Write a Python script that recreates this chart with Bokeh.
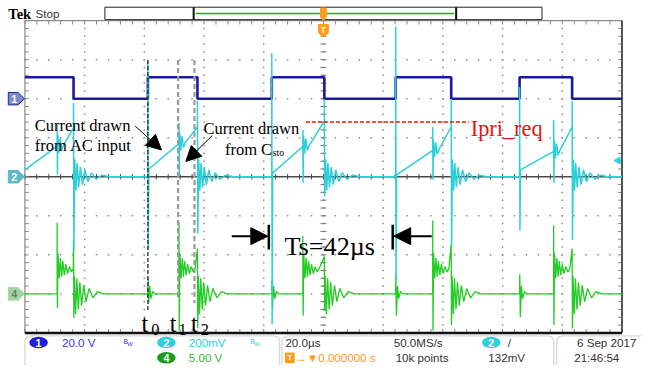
import numpy as np
from bokeh.plotting import figure
from bokeh.models import Range1d, Arrow, NormalHead, BoxAnnotation, Label
from bokeh.embed import file_html
from bokeh.resources import INLINE

# ---------------- scope settings ----------------
time_per_div = 20.0                 # µs / div
ch1_scale, ch1_pos = 20.0, 2.0      # V/div, marker position (div)
ch2_scale, ch2_pos = 200.0, 0.0     # mV/div
ch4_scale, ch4_pos = 5.0, -3.0      # V/div

# ---------------- event times (µs) ----------------
t_rise = [-58.8, -17.3, 24.2, 65.7]           # t0 : turn-on
t_mid = [-89.2, -48.4, -6.9, 36.6, 77.1]      # t1
t_fall = [-83.7, -42.2, 0.3, 42.8, 83.3]      # t2 : turn-off

# ---------------- CH1 gate (V) ----------------
gate_high, gate_low = 11.0, 0.0

# ---------------- CH2 primary current (mV) ----------------
i_start = [35, 40, 20, 10, 35]
i_mid = [157, 170, 155, 135, 130]
i_mid_hi = [265, 275, 240, 255, 290]
i_mid_lo = [10, 5, -30, -15, -30]
i_peak = [250, 255, 285, 255, 255]
i_fall_hi = [378, 388, 398, 398, 388]
i_fall_lo = [-373, -290, -100, -358, -324]
i_rise_hi = [594, 633, 770, 460]
i_rise_lo = [-373, -756, -520, -275]
i_mid_ring_dt = [0.25, 0.6, 1.0, 1.5, 2.1]
i_mid_ring = [55, -35, 40, -20, 5]
i_fall_ring_dt = [0.4, 0.8, 1.2, 1.7, 2.3, 3.0, 3.8, 4.8, 6.0, 7.5, 9.5, 12.0]
i_fall_ring = [90, -70, 70, -55, 50, -40, 35, -25, 20, -12, 8, 0]
ipri_req = 280

# ---------------- CH4 (V) ----------------
v_rise_hi = [2.1, 1.7, 2.5, 2.5]
v_rise_lo = [-1.2, -1.8, -2.8, -3.0]
v_rise_ring_dt = [0.6, 1.0, 1.6, 2.4]
v_rise_ring = [1.0, -0.6, 0.3, 0.0]
v_mid_hi = [9.1, 9.2, 7.4, 9.4, 8.8]
v_mid_lo = [-1.8, -4.7, -2.8, -4.7, -4.0]
v_mid_ring_dt = [0.3, 0.7, 1.1, 1.5, 1.9, 2.4, 2.9, 3.5, 4.1, 4.8, 5.4]
v_mid_ring = [5.2, 2.0, 4.6, 2.2, 4.2, 2.4, 3.8, 2.6, 3.5, 2.8, 3.2]
v_fall_hi = [7.0, 5.8, 4.8, 6.4, 5.8]
v_fall_lo = [-3.1, -4.4, -2.2, -4.0, -4.4]
v_fall_ring_dt = [0.3, 0.7, 1.1, 1.6, 2.1, 2.7, 3.4, 4.2, 5.2, 6.5, 8.0, 10.0]
v_fall_ring = [2.3, -2.6, 2.0, -2.0, 1.5, -1.5, 1.1, -1.0, 0.7, -0.5, 0.3, 0.0]

# ---------------- layout helpers (reference-pixel -> data) ----------------
PX_DIV_X, PX_DIV_Y = 61.2, 40.75
CX, CY = 331.0, 184.0
FS = 0.97


def X(px):
    return (px - CX) / PX_DIV_X * time_per_div


def Y(py):
    return (CY - py) / PX_DIV_Y


def W(px):
    return px / PX_DIV_X * time_per_div


def H(py):
    return py / PX_DIV_Y


BLUE = "#1a1aa0"
CYAN = "#2dcfda"
GREEN = "#22cc22"

p = figure(width=641, height=365, x_range=Range1d(X(0), X(657)), y_range=Range1d(Y(381), Y(0)),
           output_backend="svg", toolbar_location=None, x_axis_type=None, y_axis_type=None,
           min_border=0, background_fill_color="white", border_fill_color="white",
           outline_line_color=None)


def label(x, y, text, size, color="black", font="Liberation Sans", align="left",
          baseline="middle", style="normal"):
    p.add_layout(Label(x=x, y=y, text=text, text_font=font, text_font_size=f"{size*FS:.1f}px",
                       text_color=color, text_align=align, text_baseline=baseline,
                       text_font_style=style))


# ---------------- graticule ----------------
ys_dot = np.round(np.arange(-4, 4.001, 0.2), 3)
xs_dot = np.round(np.arange(-100, 100.01, 4.0), 3)
dx, dy = [], []
for gx in range(-4, 5):
    for yy in ys_dot:
        dx.append(gx * time_per_div); dy.append(yy)
for gy in [-3, -2, -1, 1, 2, 3]:
    for xx in xs_dot:
        dx.append(xx); dy.append(gy)
p.scatter(dx, dy, marker="square", size=1.5, color="#8c8c8c", line_color=None)

# center horizontal line + ticks
p.segment([-100], [0], [100], [0], line_color="#4a4a4a", line_width=1.4)
tx = list(xs_dot)
p.segment(tx, [-0.07] * len(tx), tx, [0.07] * len(tx), line_color="#4a4a4a", line_width=1)
ty = list(ys_dot)
p.segment([-1.0] * len(ty), ty, [1.0] * len(ty), ty, line_color="#777", line_width=1)
# border ticks
p.segment(tx, [4] * len(tx), tx, [3.9] * len(tx), line_color="#888", line_width=1)
p.segment(tx, [-4] * len(tx), tx, [-3.9] * len(tx), line_color="#888", line_width=1)
p.segment([-100] * len(ty), ty, [-98.7] * len(ty), ty, line_color="#888", line_width=1)
p.segment([100] * len(ty), ty, [98.7] * len(ty), ty, line_color="#888", line_width=1)
# border
p.segment([-100, -100], [4, -4], [100, -100], [4, 4], line_color="#8a8a8a", line_width=1.2)
p.segment([100], [-4], [100], [4], line_color="#555", line_width=2)
p.segment([-100], [-4], [100], [-4], line_color="#111", line_width=2.5)

# ---------------- CH1 ----------------
t1c, v1c = [-100.0], [gate_high]
for k in range(5):
    t1c += [t_fall[k], t_fall[k]]; v1c += [gate_high, gate_low]
    if k < 4:
        t1c += [t_rise[k], t_rise[k]]; v1c += [gate_low, gate_high]
t1c.append(100.0); v1c.append(gate_low)
p.line(t1c, [v / ch1_scale + ch1_pos for v in v1c], line_color=BLUE, line_width=2.6)

# ---------------- CH4 ----------------
t4, v4 = [-100.0], [0.0]
for k in range(5):
    if k > 0:
        tr = t_rise[k - 1]
        t4 += [tr, tr + 0.05, tr + 0.25]; v4 += [0.0, v_rise_hi[k - 1], v_rise_lo[k - 1]]
        t4 += [tr + d for d in v_rise_ring_dt]; v4 += list(v_rise_ring)
    tm = t_mid[k]
    t4 += [tm, tm, tm + 0.1]; v4 += [0.0, v_mid_hi[k], v_mid_lo[k]]
    t4 += [tm + d for d in v_mid_ring_dt]; v4 += list(v_mid_ring)
    tf = t_fall[k]
    t4 += [tf, tf + 0.1]; v4 += [v_fall_hi[k], v_fall_lo[k]]
    t4 += [tf + d for d in v_fall_ring_dt]; v4 += list(v_fall_ring)
t4.append(100.0); v4.append(0.0)
p.line(t4, [v / ch4_scale + ch4_pos for v in v4], line_color=GREEN, line_width=1.3)

# ---------------- CH2 ----------------
t2, v2 = [-100.0], [i_start[0]]
for k in range(5):
    if k > 0:
        tr = t_rise[k - 1]
        t2 += [tr, tr, tr + 0.12, tr + 0.3]
        v2 += [0, i_rise_hi[k - 1], i_rise_lo[k - 1], i_start[k]]
    tm = t_mid[k]
    t2 += [tm, tm, tm + 0.1]; v2 += [i_mid[k], i_mid_hi[k], i_mid_lo[k]]
    t2 += [tm + d for d in i_mid_ring_dt]; v2 += [i_mid[k] + d for d in i_mid_ring]
    tf = t_fall[k]
    t2 += [tf, tf, tf + 0.12]; v2 += [i_peak[k], i_fall_hi[k], i_fall_lo[k]]
    t2 += [tf + d for d in i_fall_ring_dt]; v2 += list(i_fall_ring)
t2.append(100.0); v2.append(0)
p.line(t2, [v / ch2_scale + ch2_pos for v in v2], line_color=CYAN, line_width=1.5)

# ---------------- t0 / t1 / t2 markers ----------------
m0, m1, m2 = t_rise[0], t_mid[1] - 0.3, t_fall[1] - 1.0
p.segment([m0], [Y(62)], [m0], [Y(323)], line_color="#1e2a3a", line_width=1.3,
          line_dash="4 2")
p.segment([m1, m2], [Y(62), Y(62)], [m1, m2], [Y(312), Y(316)],
          line_color="#9a9a9a", line_width=2.2, line_dash="5 3")
for tt, sub, dt_t, dt_s in [(m0, "0", -6.5, 3.5), (m1, "1", -8.5, 0.5), (m2, "2", -3.5, 6.5)]:
    label(tt + W(dt_t), Y(337), "t", 25, font="Liberation Serif", baseline="alphabetic")
    label(tt + W(dt_s), Y(343), sub, 17, font="Liberation Serif", baseline="alphabetic")

# ---------------- annotations ----------------
label(X(35), Y(130), "Current drawn", 17, font="Liberation Serif", baseline="alphabetic")
label(X(35), Y(151), "from AC input", 17, font="Liberation Serif", baseline="alphabetic")
label(X(208), Y(134), "Current drawn", 17, font="Liberation Serif", baseline="alphabetic")
label(X(230), Y(156), "from C", 17, font="Liberation Serif", baseline="alphabetic")
label(X(279), Y(159), "sto", 10, font="Liberation Serif", baseline="alphabetic")
p.add_layout(Arrow(end=NormalHead(size=15, fill_color="black", line_color="black"),
                   x_start=X(138), y_start=Y(131), x_end=X(165), y_end=Y(156),
                   line_color="black", line_width=1))
p.add_layout(Arrow(end=NormalHead(size=15, fill_color="black", line_color="black"),
                   x_start=X(217), y_start=Y(141), x_end=X(190), y_end=Y(168),
                   line_color="black", line_width=1))

y_req = ipri_req / ch2_scale + ch2_pos
p.segment([X(313)], [y_req], [X(480)], [y_req], line_color="#ee1111", line_width=1.5,
          line_dash="4 2")
label(X(482), y_req - H(7), "Ipri_req", 23, color="#ee1111", font="Liberation Serif",
      baseline="alphabetic")

# Ts arrows
ts_a, ts_b = t_rise[1] - 1.0, t_rise[2] - 1.0
p.segment([ts_a, ts_b], [Y(234), Y(234)], [ts_a, ts_b], [Y(260), Y(260)], line_color="black",
          line_width=2.5)
p.add_layout(Arrow(end=NormalHead(size=17, fill_color="black", line_color="black"),
                   x_start=X(237), y_start=Y(246), x_end=ts_a - W(1), y_end=Y(246),
                   line_color="black", line_width=2))
p.add_layout(Arrow(end=NormalHead(size=17, fill_color="black", line_color="black"),
                   x_start=X(442), y_start=Y(246), x_end=ts_b + W(1), y_end=Y(246),
                   line_color="black", line_width=2))
label(X(291), Y(257), "Ts=42\u00b5s", 27, font="Liberation Serif", baseline="alphabetic")

# ---------------- channel markers ----------------
def marker(yc, fill, line, txt, txtcol):
    xs = [X(8), X(18), X(24.5), X(18), X(8)]
    ys = [yc + H(6.5), yc + H(6.5), yc, yc - H(6.5), yc - H(6.5)]
    p.patch(xs, ys, fill_color=fill, line_color=line, line_width=1)
    label(X(14), yc, txt, 11, color=txtcol, align="center", style="bold")


marker(ch1_pos, "#7b8cc8", "#1a2aa0", "1", "white")
marker(ch2_pos, "#5cb9c6", "#5cb9c6", "2", "white")
marker(ch4_pos, "#9fd69f", "#9fd69f", "4", "#777777")
p.scatter([X(633)], [Y(167)], marker="triangle", angle=np.pi / 2, size=7, color=CYAN)

# ---------------- header ----------------
label(X(8), Y(14), "Tek", 15, font="Liberation Serif", style="bold")
label(X(36), Y(14), "Stop", 12, color="#333")
p.quad(left=[X(107)], right=[X(555)], bottom=[Y(20)], top=[Y(7)], fill_color="white",
       line_color="#222", line_width=1)
p.segment([X(198), X(467)], [Y(7), Y(7)], [X(198), X(467)], [Y(20), Y(20)], line_color="#111",
          line_width=2)
p.segment([X(200)], [Y(13.5)], [X(465)], [Y(13.5)], line_color="#2aa62a", line_width=1.5)
ORANGE = "#ff9a1a"
p.patch([X(328), X(334), X(334), X(331), X(328)], [Y(8), Y(8), Y(17), Y(21), Y(17)],
        fill_color=ORANGE, line_color=ORANGE)
p.patch([X(326), X(336), X(336), X(331), X(326)], [Y(25), Y(25), Y(34), Y(38), Y(34)],
        fill_color=ORANGE, line_color=ORANGE)
label(X(331), Y(30.5), "T", 9, color="white", align="center", style="bold")

# ---------------- status bar ----------------
for l, r in [(25, 286), (288.5, 567), (570, 662)]:
    p.add_layout(BoxAnnotation(left=X(l), right=X(r), bottom=Y(390), top=Y(350), fill_alpha=0,
                               line_color="#7a7a7a", line_width=1.3, border_radius=6))
p.ellipse(x=[X(39), X(170), X(170), X(503)], y=[Y(357), Y(357), Y(373), Y(357)],
          width=W(19), height=H(12),
          fill_color=["#1f1fe0", CYAN, "#1a9a1a", CYAN], line_color=None)
for xx, yy, tt in [(39, 357, "1"), (170, 357, "2"), (170, 373, "4"), (503, 357, "2")]:
    label(X(xx), Y(yy), tt, 11, color="white", align="center", style="bold")
label(X(63), Y(357), "20.0 V", 12, color="#3a3ae0")
label(X(126), Y(356), "B", 7, color="#3a3ae0")
label(X(130), Y(359), "W", 6, color="#3a3ae0")
label(X(193), Y(357), "200mV", 12, color=CYAN)
label(X(256), Y(356), "B", 7, color=CYAN)
label(X(260), Y(359), "W", 6, color=CYAN)
label(X(193), Y(373), "5.00 V", 12, color="#33bb33")
label(X(292), Y(357), "20.0\u00b5s", 12, color="#333")
p.quad(left=[X(292)], right=[X(301)], bottom=[Y(378)], top=[Y(368)], fill_color=ORANGE,
       line_color=ORANGE)
label(X(296.5), Y(373), "T", 8, color="white", align="center", style="bold")
label(X(302), Y(373), "\u2192\u25bc0.000000 s", 12, color=ORANGE)
label(X(403), Y(357), "50.0MS/s", 12, color="#333")
label(X(405), Y(373), "10k points", 12, color="#333")
label(X(520), Y(357), "/", 12, color="#333")
label(X(500), Y(373), "132mV", 12, color="#333")
label(X(655), Y(357), "6 Sep  2017", 12, color="#333", align="right")
label(X(588), Y(373), "21:46:54", 12, color="#333")

open("out.html", "w").write(file_html(p, INLINE))
